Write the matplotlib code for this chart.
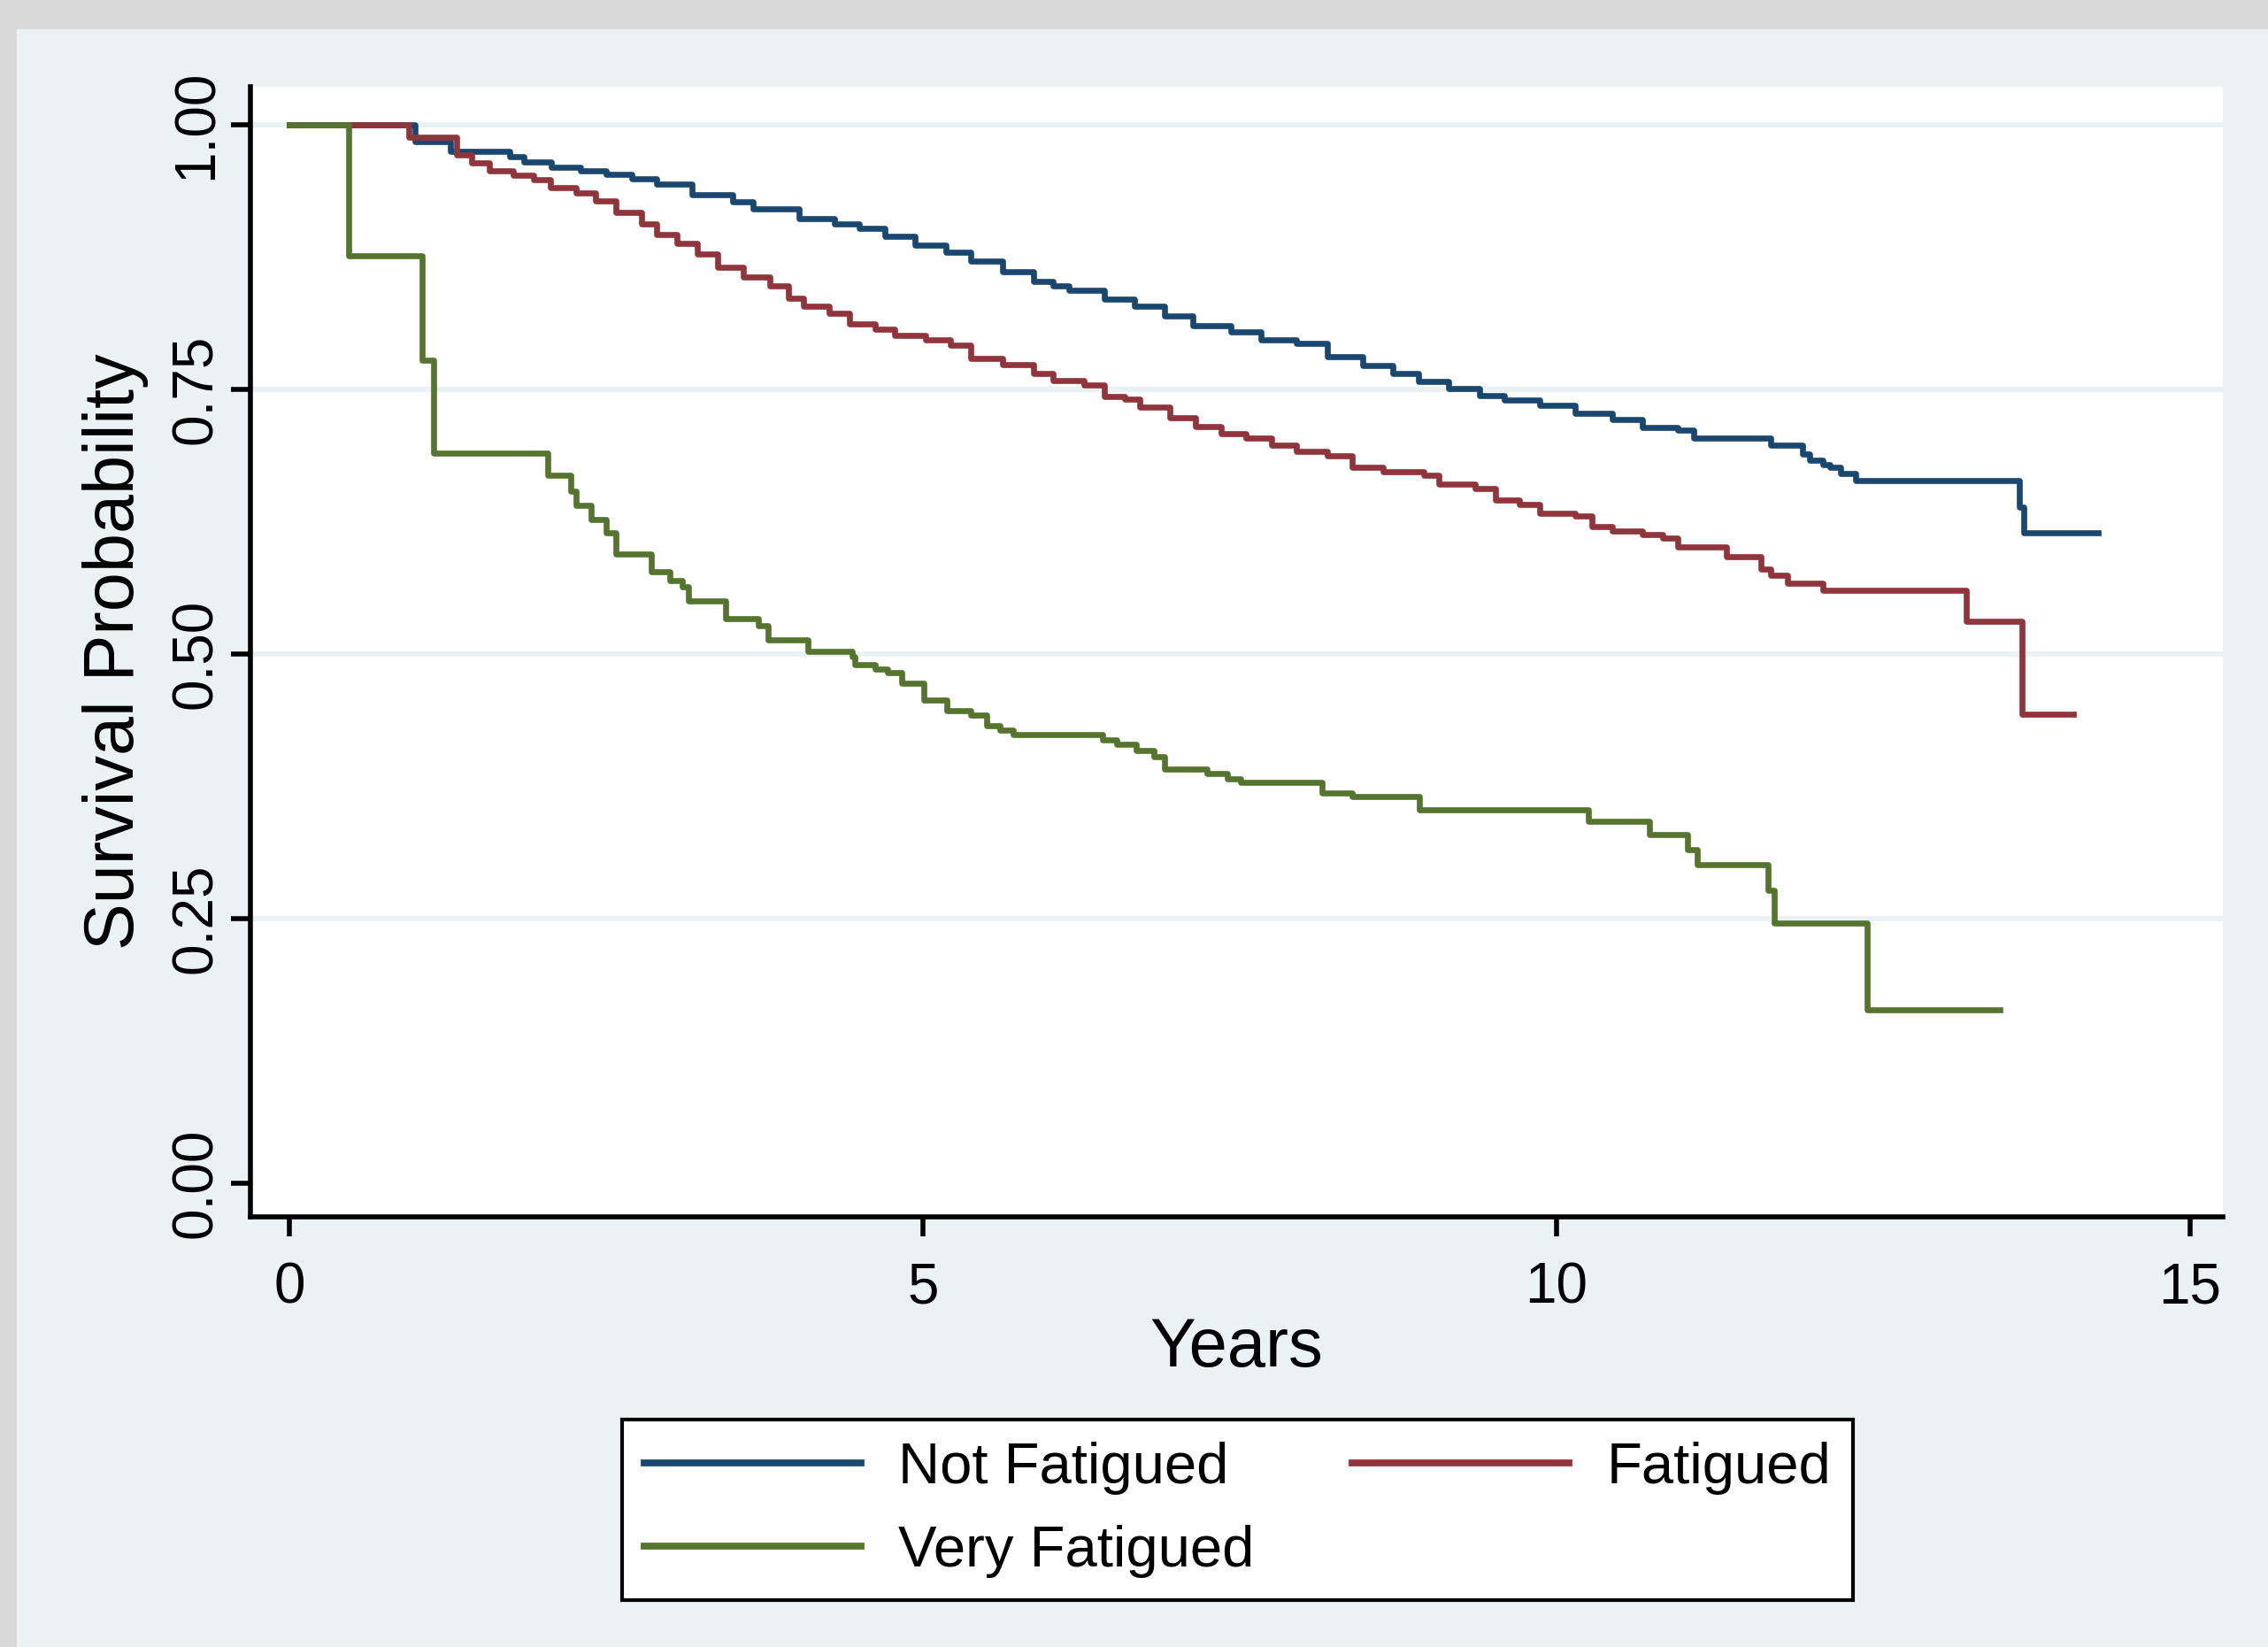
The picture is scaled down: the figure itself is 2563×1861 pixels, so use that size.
"""Kaplan-Meier survival curves by fatigue group (Stata s2color look)."""

import matplotlib

matplotlib.use("Agg")
import matplotlib.pyplot as plt
from matplotlib.patches import Rectangle

plt.rcParams["font.family"] = ["Liberation Sans", "DejaVu Sans"]

# Step points: time (years) where the curve drops, new survival
not_fatigued_t = [
    0, 0.99, 1.27, 1.74, 1.85, 2.07, 2.30, 2.50, 2.70, 2.90,
    3.18, 3.50, 3.66, 4.02, 4.30, 4.50, 4.70, 4.94, 5.18, 5.38,
    5.63, 5.87, 6.03, 6.15, 6.43, 6.67, 6.91, 7.13, 7.43, 7.67,
    7.95, 8.19, 8.47, 8.71, 8.91, 9.15, 9.39, 9.59, 9.87, 10.15,
    10.44, 10.68, 10.96, 11.08, 11.69, 11.94, 12.00, 12.10, 12.16, 12.24,
    12.36, 13.65, 13.69, 14.27,
]
not_fatigued_s = [
    1.0, 0.984, 0.975, 0.970, 0.965, 0.960, 0.956, 0.953, 0.949, 0.944,
    0.934, 0.927, 0.920, 0.911, 0.906, 0.902, 0.894, 0.886, 0.879, 0.871,
    0.861, 0.852, 0.848, 0.843, 0.835, 0.828, 0.819, 0.810, 0.804, 0.797,
    0.793, 0.781, 0.772, 0.765, 0.757, 0.751, 0.744, 0.740, 0.735, 0.727,
    0.721, 0.714, 0.711, 0.704, 0.697, 0.689, 0.683, 0.679, 0.676, 0.670,
    0.664, 0.639, 0.614, 0.614,
]

fatigued_t = [
    0, 0.94, 1.32, 1.44, 1.58, 1.77, 1.93, 2.06, 2.26, 2.42,
    2.58, 2.78, 2.90, 3.06, 3.22, 3.38, 3.58, 3.79, 3.94, 4.06,
    4.26, 4.42, 4.62, 4.78, 5.02, 5.22, 5.38, 5.63, 5.87, 6.03,
    6.27, 6.43, 6.59, 6.71, 6.95, 7.15, 7.35, 7.55, 7.75, 7.95,
    8.19, 8.39, 8.63, 8.95, 9.07, 9.36, 9.52, 9.71, 9.87, 10.15,
    10.28, 10.44, 10.68, 10.84, 10.96, 11.34, 11.61, 11.69, 11.82, 12.10,
    13.23, 13.67, 14.08,
]
fatigued_s = [
    1.0, 0.988, 0.971, 0.964, 0.956, 0.952, 0.948, 0.940, 0.935, 0.928,
    0.917, 0.906, 0.896, 0.888, 0.878, 0.865, 0.856, 0.848, 0.836, 0.828,
    0.822, 0.812, 0.807, 0.801, 0.797, 0.792, 0.779, 0.773, 0.765, 0.758,
    0.754, 0.743, 0.741, 0.733, 0.723, 0.715, 0.708, 0.704, 0.697, 0.691,
    0.687, 0.676, 0.672, 0.669, 0.660, 0.656, 0.645, 0.641, 0.633, 0.630,
    0.620, 0.616, 0.613, 0.609, 0.601, 0.592, 0.580, 0.574, 0.567, 0.560,
    0.531, 0.443, 0.443,
]

very_fatigued_t = [
    0, 0.47, 1.05, 1.14, 2.04, 2.22, 2.26, 2.38, 2.50, 2.58,
    2.86, 3.00, 3.10, 3.15, 3.44, 3.70, 3.78, 4.09, 4.44, 4.46,
    4.62, 4.72, 4.83, 5.01, 5.19, 5.38, 5.50, 5.61, 5.71, 6.42,
    6.53, 6.68, 6.82, 6.91, 7.24, 7.40, 7.51, 8.15, 8.39, 8.92,
    10.25, 10.73, 11.03, 11.11, 11.67, 11.72, 12.45, 13.50,
]
very_fatigued_s = [
    1.0, 0.876, 0.777, 0.690, 0.669, 0.654, 0.640, 0.627, 0.614, 0.594,
    0.578, 0.569, 0.563, 0.550, 0.533, 0.527, 0.513, 0.502, 0.497, 0.490,
    0.486, 0.482, 0.472, 0.456, 0.446, 0.442, 0.432, 0.428, 0.424, 0.419,
    0.415, 0.409, 0.403, 0.391, 0.387, 0.382, 0.379, 0.369, 0.365, 0.353,
    0.342, 0.329, 0.315, 0.301, 0.277, 0.246, 0.164, 0.164,
]

x_ticks = [0, 5, 10, 15]
y_ticks = [0.0, 0.25, 0.50, 0.75, 1.00]
y_tick_labels = ["0.00", "0.25", "0.50", "0.75", "1.00"]
grid_levels = [0.25, 0.50, 0.75, 1.00]

# Stata s2color palette
BG = "#eaf2f3"
NAVY = "#1a476f"
MAROON = "#90353b"
GREEN = "#55752f"


def survival_chart():
    fig = plt.figure(figsize=(12.815, 9.305), dpi=200, facecolor=BG)

    # screenshot edges (gray strip on top and left)
    fig.patches.append(Rectangle((0, 1 - 31 / 1861), 1, 31 / 1861,
                                 transform=fig.transFigure, color="#d9d9d9", zorder=0))
    fig.patches.append(Rectangle((0, 0), 17 / 2563, 1,
                                 transform=fig.transFigure, color="#d9d9d9", zorder=0))

    ax = fig.add_axes([0.1104, 0.2611, 0.8697, 0.6862])
    ax.set_facecolor("white")

    for lvl in grid_levels:
        ax.axhline(lvl, color=BG, linewidth=2.2, zorder=0.5)

    lw = 2.4
    h_nf, = ax.plot(not_fatigued_t, not_fatigued_s, drawstyle="steps-post",
                    color=NAVY, linewidth=lw, label="Not Fatigued", zorder=3)
    h_f, = ax.plot(fatigued_t, fatigued_s, drawstyle="steps-post",
                   color=MAROON, linewidth=lw, label="Fatigued", zorder=4)
    h_vf, = ax.plot(very_fatigued_t, very_fatigued_s, drawstyle="steps-post",
                    color=GREEN, linewidth=lw, label="Very Fatigued", zorder=5)

    ax.set_xlim(-0.307, 15.258)
    ax.set_ylim(-0.0318, 1.0356)

    for side in ("top", "right"):
        ax.spines[side].set_visible(False)
    for side in ("left", "bottom"):
        ax.spines[side].set_linewidth(2.0)
        ax.spines[side].set_color("black")

    ax.set_xticks(x_ticks)
    ax.set_yticks(y_ticks)
    ax.set_yticklabels(y_tick_labels)
    ax.tick_params(axis="both", direction="out", length=8, width=2.0,
                   labelsize=23, color="black")
    ax.tick_params(axis="x", pad=10)
    ax.tick_params(axis="y", pad=3, labelrotation=90)
    for lab in ax.get_yticklabels():
        lab.set_verticalalignment("center")

    ax.set_xlabel("Years", fontsize=28)
    ax.xaxis.set_label_coords(0.5, -0.088)
    ax.set_ylabel("Survival Probability", fontsize=28.5)
    ax.yaxis.set_label_coords(-0.0516, 0.5)

    leg = fig.legend(
        handles=[h_nf, h_vf, h_f],
        ncol=2,
        loc="center",
        bbox_to_anchor=(0.5457, 0.0832),
        fontsize=23.5,
        frameon=True,
        fancybox=False,
        framealpha=1,
        facecolor="white",
        edgecolor="black",
        handlelength=3.75,
        handletextpad=0.65,
        columnspacing=1.7,
        borderpad=0.38,
        labelspacing=0.52,
    )
    leg.get_frame().set_linewidth(1.5)
    for line in leg.get_lines():
        line.set_linewidth(2.8)

    return fig


if __name__ == "__main__":
    fig = survival_chart()
    fig.savefig("out.png", dpi=200, facecolor=fig.get_facecolor())
